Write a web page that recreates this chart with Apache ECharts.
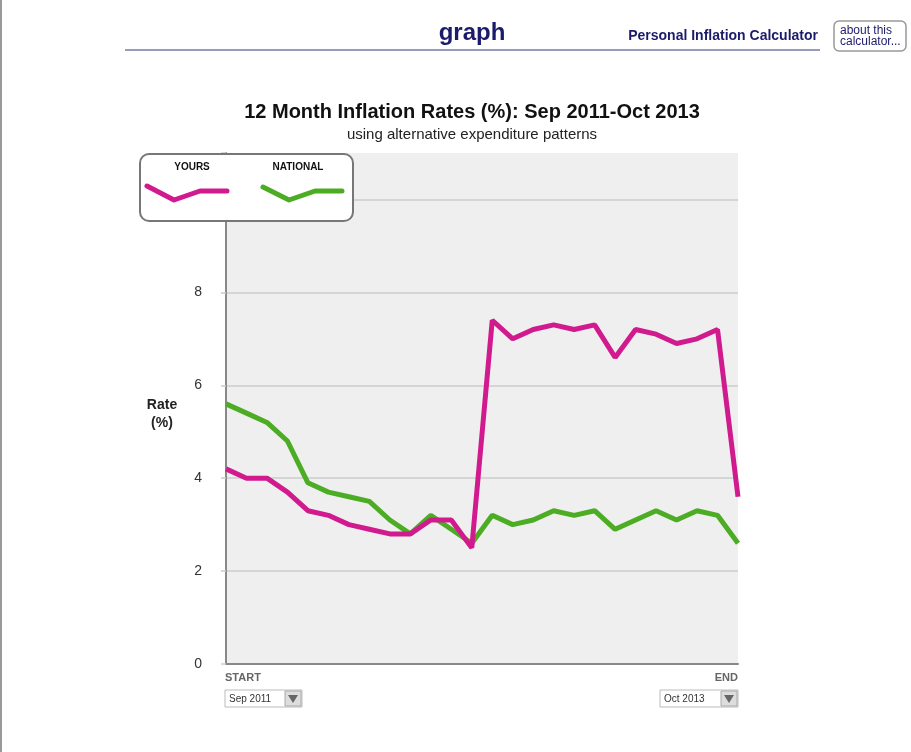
<!DOCTYPE html>
<html>
<head>
<meta charset="utf-8">
<script src="https://cdn.jsdelivr.net/npm/echarts@6/dist/echarts.min.js"></script>
<style>
    html, body {margin: 0; padding: 0; background: #fff;}
    #chart {width: 911px; height: 752px;}
</style>
</head>
<body>
<div id="chart"></div>
<script>
// months Sep 2011 - Oct 2013
const months = ['Sep 2011', 'Oct 2011', 'Nov 2011', 'Dec 2011', 'Jan 2012', 'Feb 2012', 'Mar 2012', 'Apr 2012',
    'May 2012', 'Jun 2012', 'Jul 2012', 'Aug 2012', 'Sep 2012', 'Oct 2012', 'Nov 2012', 'Dec 2012', 'Jan 2013',
    'Feb 2013', 'Mar 2013', 'Apr 2013', 'May 2013', 'Jun 2013', 'Jul 2013', 'Aug 2013', 'Sep 2013', 'Oct 2013'];
const yours = [4.2, 4.0, 4.0, 3.7, 3.3, 3.2, 3.0, 2.9, 2.8, 2.8, 3.1, 3.1, 2.5, 7.4, 7.0, 7.2, 7.3, 7.2, 7.3, 6.6,
    7.2, 7.1, 6.9, 7.0, 7.2, 3.6];
const national = [5.6, 5.4, 5.2, 4.8, 3.9, 3.7, 3.6, 3.5, 3.1, 2.8, 3.2, 2.9, 2.6, 3.2, 3.0, 3.1, 3.3, 3.2, 3.3, 2.9,
    3.1, 3.3, 3.1, 3.3, 3.2, 2.6];
const yTicks = [0, 2, 4, 6, 8];

const pink = '#d11a8e';
const green = '#4cad24';
const navy = '#1b1b6b';
const font = 'Liberation Sans, Arial, sans-serif';

const myChart = echarts.init(document.getElementById('chart'));

// dropdown box helper (start / end selectors)
function dropdown(x, y, w, text) {
    return {
        type: 'group', x: x, y: y,
        children: [
            {type: 'rect', shape: {x: 0, y: 0, width: w, height: 17}, style: {fill: '#fff', stroke: '#bbb', lineWidth: 1}},
            {type: 'text', x: 4, y: 9, style: {text: text, font: '10px ' + font, fill: '#333', verticalAlign: 'middle'}},
            {type: 'rect', shape: {x: w - 17, y: 1, width: 16, height: 15}, style: {fill: '#ddd', stroke: '#aaa', lineWidth: 1}},
            {type: 'polygon', shape: {points: [[w - 14, 5], [w - 4, 5], [w - 9, 13]]}, style: {fill: '#666'}}
        ]
    };
}

const option = {
    backgroundColor: '#fff',
    animation: false,
    grid: {
        left: 226, right: 173, top: 153, bottom: 88,
        show: true, backgroundColor: '#efefef', borderWidth: 0
    },
    xAxis: {
        type: 'category',
        data: months,
        boundaryGap: false,
        axisLine: {lineStyle: {color: '#888', width: 2}},
        axisTick: {show: false},
        axisLabel: {show: false},
        splitLine: {show: false}
    },
    yAxis: {
        type: 'value',
        min: 0, max: 11, interval: 2,
        axisLine: {show: true, lineStyle: {color: '#888', width: 2}},
        axisTick: {show: true, length: 5, lineStyle: {color: '#ccc', width: 1.5}},
        axisLabel: {
            margin: 24,
            padding: [0, 0, 9, 0],
            fontSize: 14, color: '#333', fontFamily: font,
            formatter: v => yTicks.indexOf(v) >= 0 ? String(v) : ''
        },
        splitLine: {show: true, showMaxLine: false, lineStyle: {color: '#ccc', width: 1.5}}
    },
    series: [
        {
            name: 'NATIONAL', type: 'line', data: national, symbol: 'none',
            lineStyle: {color: green, width: 5}, itemStyle: {color: green}
        },
        {
            name: 'YOURS', type: 'line', data: yours, symbol: 'none',
            lineStyle: {color: pink, width: 5}, itemStyle: {color: pink}
        }
    ],
    graphic: [
        // left page border
        {type: 'rect', shape: {x: 0, y: 0, width: 2, height: 752}, style: {fill: '#999'}},
        // header
        {type: 'text', x: 472, y: 33, style: {text: 'graph', font: 'bold 24px ' + font, fill: navy, align: 'center', verticalAlign: 'middle'}},
        {type: 'text', x: 818, y: 36, style: {text: 'Personal Inflation Calculator', font: 'bold 14px ' + font, fill: navy, align: 'right', verticalAlign: 'middle'}},
        {type: 'line', shape: {x1: 125, y1: 50, x2: 820, y2: 50}, style: {stroke: '#9a9abb', lineWidth: 2}},
        {type: 'rect', shape: {x: 834, y: 21, width: 72, height: 30, r: 5}, style: {fill: '#fff', stroke: '#999', lineWidth: 1.5}},
        {type: 'text', x: 840, y: 36, style: {text: 'about this\ncalculator...', font: '12px ' + font, fill: navy, verticalAlign: 'middle', lineHeight: 11}},
        // titles
        {type: 'text', x: 472, y: 112, style: {text: '12 Month Inflation Rates (%): Sep 2011-Oct 2013', font: 'bold 20px ' + font, fill: '#111', align: 'center', verticalAlign: 'middle'}},
        {type: 'text', x: 472, y: 135, style: {text: 'using alternative expenditure patterns', font: '15px ' + font, fill: '#222', align: 'center', verticalAlign: 'middle'}},
        {type: 'text', x: 162, y: 414, style: {text: 'Rate\n(%)', font: 'bold 14px ' + font, fill: '#222', align: 'center', verticalAlign: 'middle', lineHeight: 18}},
        // legend box drawn over the axis
        {type: 'rect', z: 100, shape: {x: 140, y: 154, width: 213, height: 67, r: 9}, style: {fill: '#fff', stroke: '#777', lineWidth: 2}},
        {type: 'text', z: 101, x: 192, y: 167, style: {text: 'YOURS', font: 'bold 10px ' + font, fill: '#111', align: 'center', verticalAlign: 'middle'}},
        {type: 'text', z: 101, x: 298, y: 167, style: {text: 'NATIONAL', font: 'bold 10px ' + font, fill: '#111', align: 'center', verticalAlign: 'middle'}},
        {type: 'polyline', z: 101, shape: {points: [[147, 186], [174, 200], [200, 191], [227, 191]]}, style: {stroke: pink, lineWidth: 5, lineCap: 'round', lineJoin: 'round', fill: null}},
        {type: 'polyline', z: 101, shape: {points: [[263, 187], [289, 200], [315, 191], [342, 191]]}, style: {stroke: green, lineWidth: 5, lineCap: 'round', lineJoin: 'round', fill: null}},
        // start / end
        {type: 'text', x: 225, y: 678, style: {text: 'START', font: 'bold 11px ' + font, fill: '#666', verticalAlign: 'middle'}},
        {type: 'text', x: 738, y: 678, style: {text: 'END', font: 'bold 11px ' + font, fill: '#666', align: 'right', verticalAlign: 'middle'}},
        dropdown(225, 690, 77, 'Sep 2011'),
        dropdown(660, 690, 78, 'Oct 2013')
    ]
};

myChart.setOption(option, true);
</script>
</body>
</html>
